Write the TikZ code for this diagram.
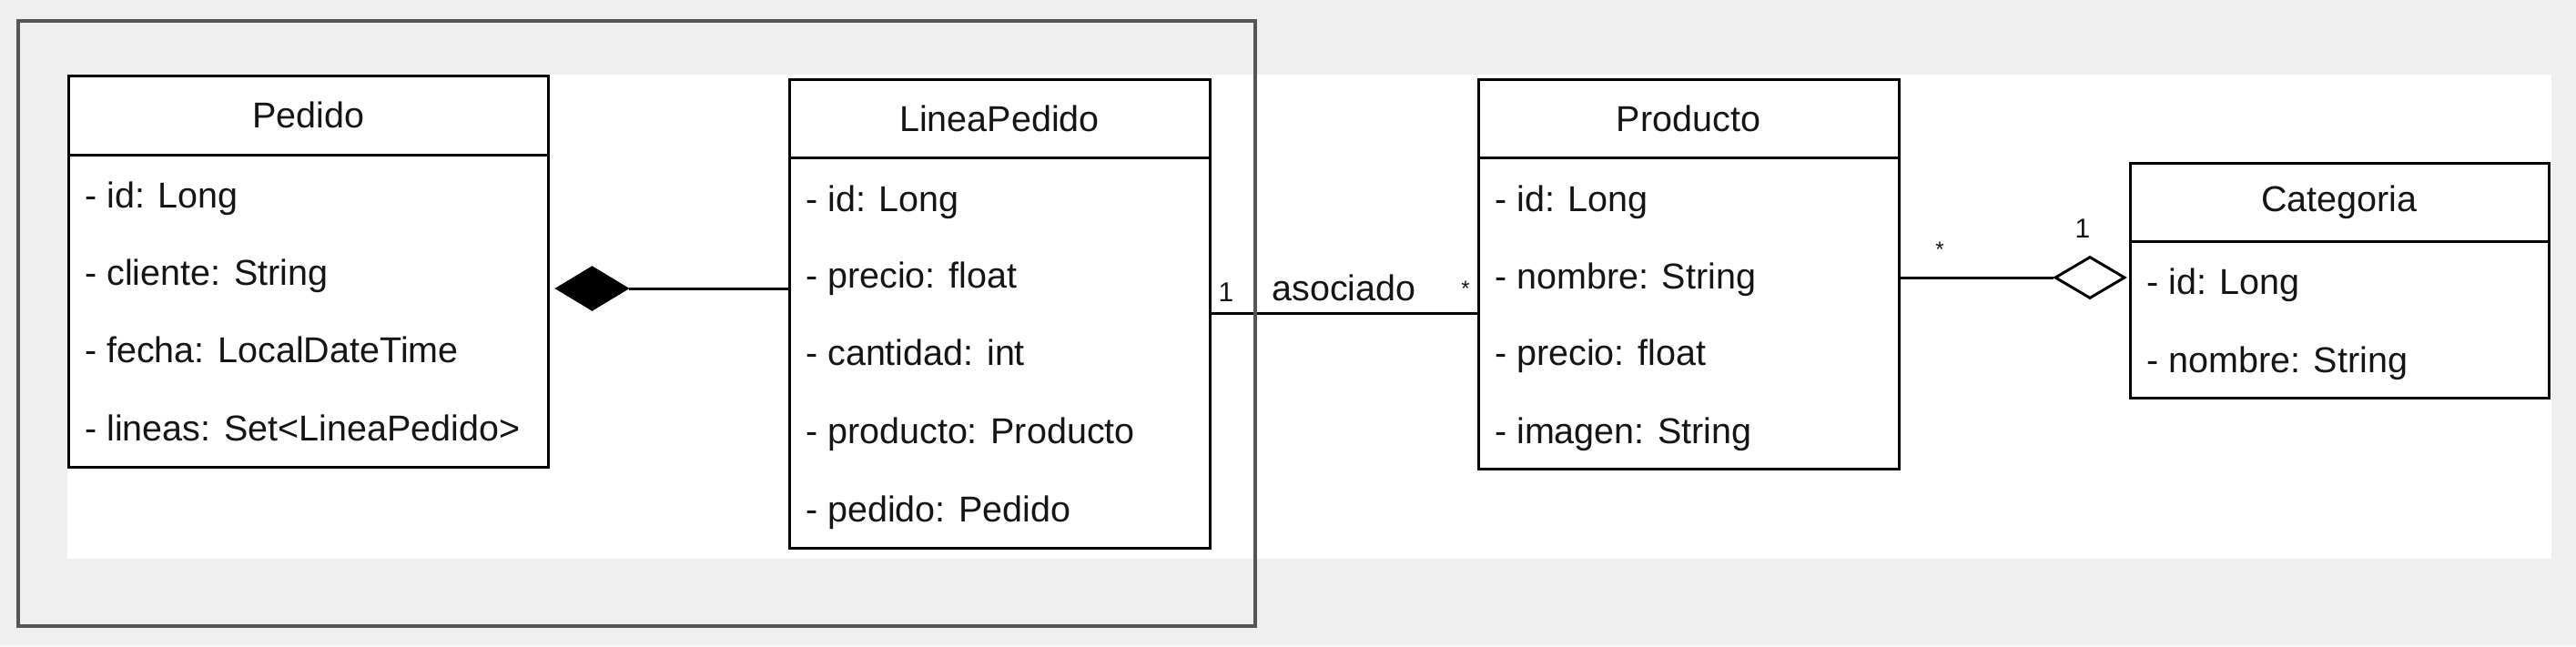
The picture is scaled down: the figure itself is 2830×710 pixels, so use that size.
\documentclass[tikz,border=0pt]{standalone}
\usepackage{fontspec}
\setmainfont{Liberation Sans}
\usetikzlibrary{positioning, shapes.geometric}
\definecolor{bgGray}{HTML}{EFEFEF}
\definecolor{frameGray}{HTML}{555555}
\definecolor{inkBlack}{HTML}{151515}
\tikzset{
    classhead/.style={draw=black, line width=3pt, fill=white, inner sep=0pt, outer sep=0pt, text=inkBlack},
    classbody/.style={draw=black, line width=3pt, fill=white, inner sep=0pt, outer sep=0pt},
    attr/.style={anchor=west, inner sep=0pt, text=inkBlack, text height=0.72em, text depth=0.2em, yshift=-9pt},
    mult/.style={inner sep=0pt, anchor=base, text=inkBlack, font=\fontsize{30}{34}\selectfont},
    star/.style={inner sep=0pt, anchor=base, text=inkBlack, font=\fontsize{24}{26}\selectfont},
    link/.style={draw=black, line width=3pt},
    compo/.style={diamond, draw=black, fill=black, line width=2pt, inner sep=0pt, minimum width=79pt, minimum height=48pt},
    aggreg/.style={diamond, draw=black, fill=white, line width=3pt, inner sep=0pt, minimum width=77pt, minimum height=46pt}}

\begin{document}
\begin{tikzpicture}[x=1pt, y=-1pt, font=\fontsize{39.5}{46}\selectfont]

    \useasboundingbox (0,0) rectangle (2830,710);
    \fill[bgGray] (0,0) rectangle (2830,710);
    \fill[white] (74,82) rectangle (2803,614);

    % Pedido
    \node[classhead, minimum width=527pt, minimum height=87pt] (pedido) at (338.5,126.5) {Pedido};
    \node[classbody, below=0pt of pedido, minimum width=527pt, minimum height=343pt] (pedidoBody) {};
    \node[attr] (pedidoId) at (93,217) {- id: Long};
    \node[attr] (pedidoCliente) at (93,302) {- cliente: String};
    \node[attr] (pedidoFecha) at (93,387) {- fecha: LocalDateTime};
    \node[attr] (pedidoLineas) at (93,473) {- lineas: Set<LineaPedido>};

    % LineaPedido
    \node[classhead, minimum width=462pt, minimum height=86pt] (linea) at (1098,130) {LineaPedido};
    \node[classbody, below=0pt of linea, minimum width=462pt, minimum height=429pt] (lineaBody) {};
    \node[attr] (lineaId) at (885,221) {- id: Long};
    \node[attr] (lineaPrecio) at (885,305) {- precio: float};
    \node[attr] (lineaCantidad) at (885,390) {- cantidad: int};
    \node[attr] (lineaProducto) at (885,476) {- producto: Producto};
    \node[attr] (lineaPedido) at (885,562) {- pedido: Pedido};

    % Producto
    \node[classhead, minimum width=462pt, minimum height=86pt] (prod) at (1855,130) {Producto};
    \node[classbody, below=0pt of prod, minimum width=462pt, minimum height=342pt] (prodBody) {};
    \node[attr] (prodId) at (1642,221) {- id: Long};
    \node[attr] (prodNombre) at (1642,306) {- nombre: String};
    \node[attr] (prodPrecio) at (1642,390) {- precio: float};
    \node[attr] (prodImagen) at (1642,476) {- imagen: String};

    % Categoria
    \node[classhead, minimum width=460pt, minimum height=86pt] (cat) at (2570,222) {Categoria};
    \node[classbody, below=0pt of cat, minimum width=460pt, minimum height=172pt] (catBody) {};
    \node[attr] (catId) at (2358,312) {- id: Long};
    \node[attr] (catNombre) at (2358,398) {- nombre: String};

    % relations
    \node[compo, anchor=west] (compDiamond) at (610,317) {};
    \node[aggreg, anchor=east] (aggDiamond) at (2336,305) {};

    \draw[link] (compDiamond.east) -- (compDiamond -| lineaBody.west);
    \draw[link] (prodBody.west -| lineaBody.east) -- (prodBody.west)
        node[at start, mult, xshift=18pt, yshift=13pt] {1}
        node[midway, above=12pt, inner sep=0pt, text=inkBlack] {asociado}
        node[at end, star, xshift=-14pt, yshift=19pt] {*};
    \draw[link] (prodBody.east |- aggDiamond) -- (aggDiamond.west)
        node[at start, star, xshift=45pt, yshift=23pt] {*}
        node[at end, mult, xshift=32pt, yshift=44pt] {1};

    % frame
    \draw[frameGray, line width=3.5pt] (20,23) rectangle (1379,688);

\end{tikzpicture}
\end{document}
